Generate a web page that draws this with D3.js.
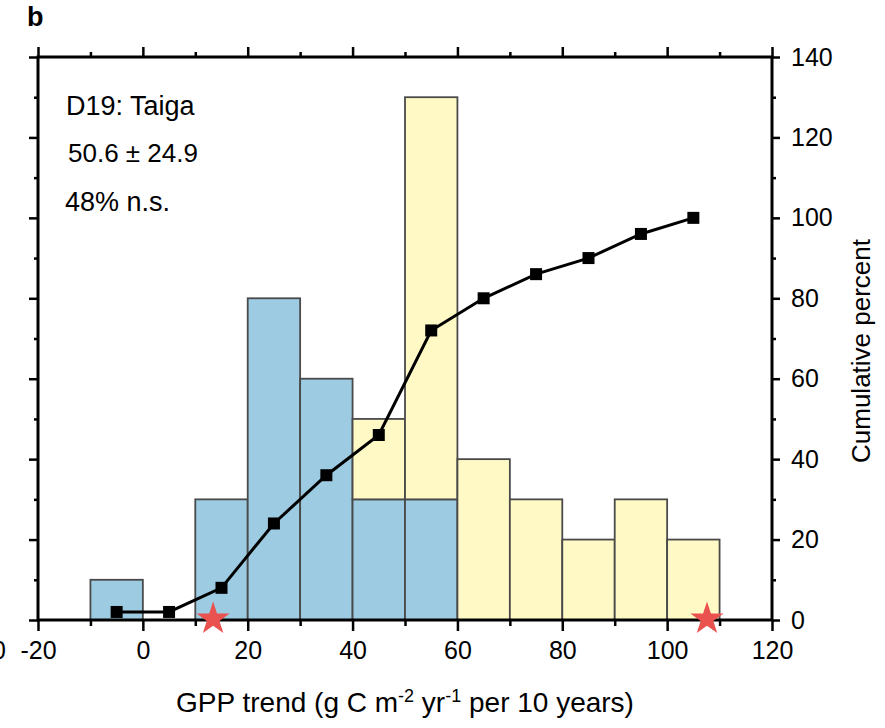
<!DOCTYPE html>
<html>
<head>
<meta charset="utf-8">
<script src="https://cdn.jsdelivr.net/npm/d3@7"></script>
<style>
    body { margin: 0; background: #fff; }
    svg { font-family: "Liberation Sans", Arial, sans-serif; }
</style>
</head>
<body>
<svg width="885" height="728"></svg>
<script>
// bins of 10 g C m-2 yr-1 per 10 years, start values
var binStarts = [-10, 0, 10, 20, 30, 40, 50, 60, 70, 80, 90, 100];
// number of sites per bin, split into the two colour groups
var blueCounts = [1, 0, 3, 8, 6, 3, 3, 0, 0, 0, 0, 0];
var yellowCounts = [0, 0, 0, 0, 0, 2, 10, 4, 3, 2, 3, 2];
// cumulative percent at bin centres
var cumCentres = [-5, 5, 15, 25, 35, 45, 55, 65, 75, 85, 95, 105];
var cumPercent = [2, 2, 8, 24, 36, 46, 72, 80, 86, 90, 96, 100];
// red stars on the x axis
var starX = [13.4, 107.6];

var xTicks = [-20, 0, 20, 40, 60, 80, 100, 120];
var xMinor = [-10, 10, 30, 50, 70, 90, 110];
var rightTicks = [0, 20, 40, 60, 80, 100, 120, 140];
var rightMinor = [10, 30, 50, 70, 90, 110, 130];
var leftTicks = [0, 2, 4, 6, 8, 10, 12, 14];
var leftMinor = [1, 3, 5, 7, 9, 11, 13];

var svg = d3.select("svg");
// plot box (window.top is read-only, so own names)
var pL = 38, pR = 772, pT = 57, pB = 620;

var x = d3.scaleLinear().domain([-20, 120]).range([pL, pR]);
var yL = d3.scaleLinear().domain([0, 14]).range([pB, pT]);
var yR = d3.scaleLinear().domain([0, 140]).range([pB, pT]);

var blueCol = "#9ccbe2", yellowCol = "#fff9c6", edge = "#4a4a4a";
var plain = function (d) { return String(d); };

// bars: blue at the bottom, yellow stacked on top
svg.append("g").selectAll("rect")
    .data(binStarts)
    .enter().append("rect")
    .attr("x", function (d) { return x(d); })
    .attr("width", function (d) { return x(d + 10) - x(d); })
    .attr("y", function (d, i) { return yL(blueCounts[i]); })
    .attr("height", function (d, i) { return yL(0) - yL(blueCounts[i]); })
    .attr("fill", blueCol)
    .attr("stroke", edge)
    .attr("stroke-width", 1.8)
    .style("display", function (d, i) { return blueCounts[i] > 0 ? null : "none"; });

svg.append("g").selectAll("rect")
    .data(binStarts)
    .enter().append("rect")
    .attr("x", function (d) { return x(d); })
    .attr("width", function (d) { return x(d + 10) - x(d); })
    .attr("y", function (d, i) { return yL(blueCounts[i] + yellowCounts[i]); })
    .attr("height", function (d, i) { return yL(blueCounts[i]) - yL(blueCounts[i] + yellowCounts[i]); })
    .attr("fill", yellowCol)
    .attr("stroke", edge)
    .attr("stroke-width", 1.8)
    .style("display", function (d, i) { return yellowCounts[i] > 0 ? null : "none"; });

// axes
function styleAxis(g) {
    g.select(".domain").remove();
    g.selectAll("line").attr("stroke", "#000").attr("stroke-width", 2.5);
    g.selectAll("text").attr("fill", "#000").attr("font-size", "25px")
        .attr("font-family", "Liberation Sans, Arial, sans-serif");
}

svg.append("g")
    .attr("transform", "translate(0," + pB + ")")
    .call(d3.axisBottom(x).tickValues(xTicks).tickSize(11).tickPadding(10).tickFormat(plain))
    .call(styleAxis);
svg.append("g")
    .attr("transform", "translate(0," + pB + ")")
    .call(d3.axisBottom(x).tickValues(xMinor).tickSize(6).tickFormat(""))
    .call(styleAxis);
svg.append("g")
    .attr("transform", "translate(0," + pT + ")")
    .call(d3.axisTop(x).tickValues(xTicks).tickSize(10).tickFormat(""))
    .call(styleAxis);
svg.append("g")
    .attr("transform", "translate(0," + pT + ")")
    .call(d3.axisTop(x).tickValues(xMinor).tickSize(5).tickFormat(""))
    .call(styleAxis);

svg.append("g")
    .attr("transform", "translate(" + pL + ",0)")
    .call(d3.axisLeft(yL).tickValues(leftTicks).tickSize(9).tickFormat(""))
    .call(styleAxis);
svg.append("g")
    .attr("transform", "translate(" + pL + ",0)")
    .call(d3.axisLeft(yL).tickValues(leftMinor).tickSize(4).tickFormat(""))
    .call(styleAxis);

svg.append("g")
    .attr("transform", "translate(" + pR + ",0)")
    .call(d3.axisRight(yR).tickValues(rightTicks).tickSize(8).tickPadding(11).tickFormat(plain))
    .call(styleAxis);
svg.append("g")
    .attr("transform", "translate(" + pR + ",0)")
    .call(d3.axisRight(yR).tickValues(rightMinor).tickSize(4).tickFormat(""))
    .call(styleAxis);

// frame
svg.append("rect")
    .attr("x", pL).attr("y", pT)
    .attr("width", pR - pL).attr("height", pB - pT)
    .attr("fill", "none")
    .attr("stroke", "#000")
    .attr("stroke-width", 3);

// cumulative line
var pts = cumCentres.map(function (c, i) { return [c, cumPercent[i]]; });
svg.append("path")
    .datum(pts)
    .attr("fill", "none")
    .attr("stroke", "#000")
    .attr("stroke-width", 3)
    .attr("d", d3.line()
        .x(function (d) { return x(d[0]); })
        .y(function (d) { return yR(d[1]); }));

svg.append("g").selectAll("rect")
    .data(pts)
    .enter().append("rect")
    .attr("x", function (d) { return x(d[0]) - 6; })
    .attr("y", function (d) { return yR(d[1]) - 6; })
    .attr("width", 12)
    .attr("height", 12)
    .attr("fill", "#000");

// stars
svg.append("g").selectAll("path")
    .data(starX)
    .enter().append("path")
    .attr("transform", function (d) { return "translate(" + x(d) + "," + (pB - 1) + ")"; })
    .attr("d", d3.symbol().type(d3.symbolStar).size(340))
    .attr("fill", "#e9524e");

// texts
svg.append("text")
    .attr("x", 27).attr("y", 26)
    .attr("font-size", "27px")
    .attr("font-weight", "bold")
    .text("b");

svg.append("text").attr("x", 66).attr("y", 115).attr("font-size", "27px").text("D19: Taiga");
svg.append("text").attr("x", 68).attr("y", 162).attr("font-size", "26px").text("50.6 \u00b1 24.9");
svg.append("text").attr("x", 65).attr("y", 211).attr("font-size", "27px").text("48% n.s.");

// leftover label from neighbouring panel
svg.append("text").attr("x", 6).attr("y", 659)
    .attr("text-anchor", "end").attr("font-size", "25px").text("0");

var xt = svg.append("text")
    .attr("x", 405).attr("y", 712)
    .attr("text-anchor", "middle")
    .attr("font-size", "28px");
xt.append("tspan").text("GPP trend (g C m");
xt.append("tspan").attr("dy", -10).attr("font-size", "18px").text("-2");
xt.append("tspan").attr("dy", 10).text(" yr");
xt.append("tspan").attr("dy", -10).attr("font-size", "18px").text("-1");
xt.append("tspan").attr("dy", 10).text(" per 10 years)");

svg.append("text")
    .attr("transform", "translate(870,351) rotate(-90)")
    .attr("text-anchor", "middle")
    .attr("font-size", "26px")
    .text("Cumulative percent");
</script>
</body>
</html>
